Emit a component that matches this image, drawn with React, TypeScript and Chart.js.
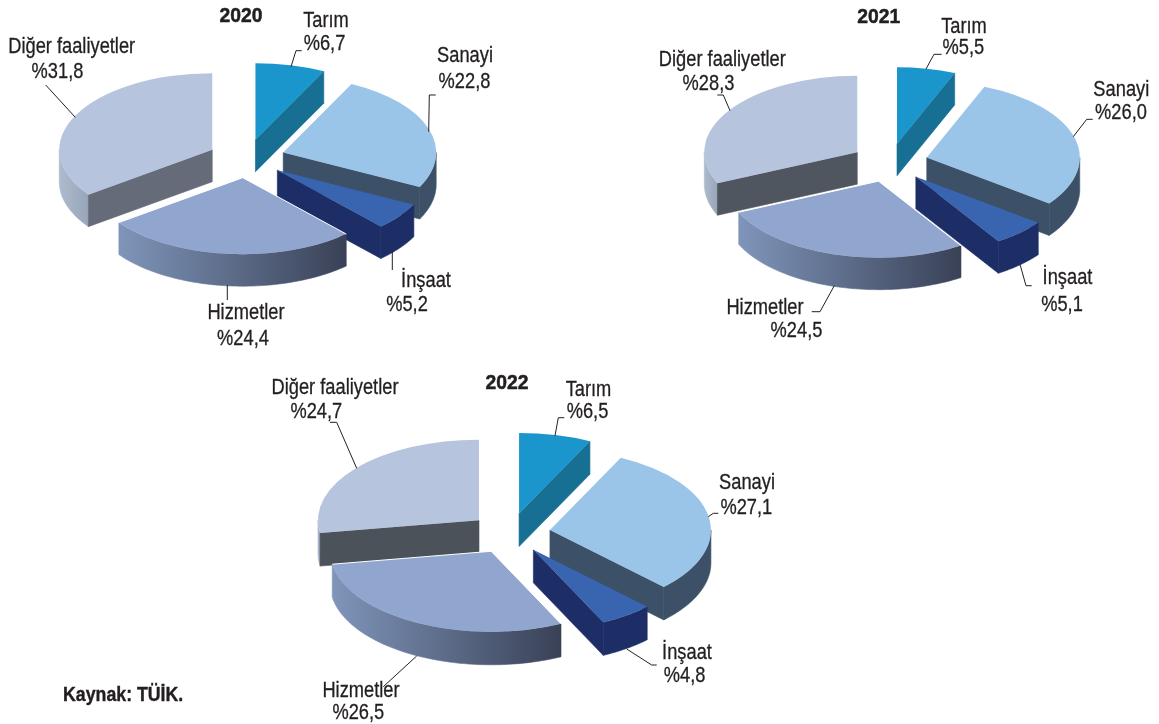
import React, { useEffect, useRef } from "react";
import { Chart, registerables } from "chart.js";

Chart.register(...registerables);

const categories = ["Tarım", "Sanayi", "İnşaat", "Hizmetler", "Diğer faaliyetler"];
const values2020 = [6.7, 22.8, 5.2, 24.4, 31.8];
const values2021 = [5.5, 26.0, 5.1, 24.5, 28.3];
const values2022 = [6.5, 27.1, 4.8, 26.5, 24.7];

const topColors = ["#1b96cc", "#9ac5e9", "#3864b0", "#91a6ce", "#b6c4dd"];
const faceColors = ["#176f94", "#3c5167", "#1d2e66", "#3a4258", "#666b79"];
const wallLeft = ["#176f94", "#3c5167", "#1d2e66", "#7f95ba", "#aebacd"];
const wallRight = ["#176f94", "#3c5167", "#1d2e66", "#394156", "#98a5ba"];

const TEXT = "#231f20";
const FONT = '"Liberation Sans", Arial, sans-serif';

type Pt = [number, number];
type Layout = {
  title: string;
  values: number[];
  box: { x: number; y: number; w: number; h: number };
  center: Pt;
  radius: number;
  depth: number;
  faceDiger: string;
  titleAt: Pt;
  nameAt: Pt[];
  valueAt: Pt[];
  leaders: Pt[][];
  note?: boolean;
};

const layouts: Layout[] = [
  {
    title: "2020",
    values: values2020,
    box: { x: 0, y: 0, w: 600, h: 365 },
    center: [246.6, 158.5],
    radius: 153,
    depth: 32,
    faceDiger: "#666b79",
    titleAt: [241, 22],
    nameAt: [[326, 27], [465, 62], [426, 287], [246, 319], [71.7, 53]],
    valueAt: [[324.5, 50], [464.5, 88], [407, 311], [243, 345], [57.5, 78]],
    leaders: [
      [[301.7, 50.7], [296, 50.7], [291, 66.7]],
      [[435.7, 95], [429.3, 95], [428.7, 131.7]],
      [[392.3, 251.7], [392.3, 270]],
      [[227.3, 285], [227.3, 300]],
      [[45.7, 85], [75.3, 117.3]],
    ],
  },
  {
    title: "2021",
    values: values2021,
    box: { x: 600, y: 0, w: 559, h: 365 },
    center: [889.6, 162.7],
    radius: 153,
    depth: 32,
    faceDiger: "#50565f",
    titleAt: [878.7, 22.7],
    nameAt: [[964, 32.7], [1121.3, 96], [1067.5, 284], [765, 314.3], [722.3, 65.7]],
    valueAt: [[963.3, 54.3], [1121, 119.3], [1062, 310.7], [796.5, 337.3], [708.5, 90]],
    leaders: [
      [[941.7, 54.3], [934, 54.3], [926, 69]],
      [[1092.7, 119.3], [1086.7, 119.3], [1073.3, 136.7]],
      [[1020, 264.3], [1026, 285.7], [1031.7, 285.7]],
      [[834.3, 285.7], [820, 311.7], [811.7, 311.7]],
      [[717.3, 95], [723.3, 95], [730, 110.7]],
    ],
  },
  {
    title: "2022",
    values: values2022,
    box: { x: 0, y: 365, w: 1159, h: 359 },
    center: [509.9, 533.3],
    radius: 161,
    depth: 33,
    faceDiger: "#4b525a",
    titleAt: [507, 389],
    nameAt: [[588.5, 396], [747, 489], [687, 659], [361, 697.3], [335, 394.3]],
    valueAt: [[587.5, 418.3], [746.3, 514], [684.7, 682.3], [358.3, 719], [316.3, 418.3]],
    leaders: [
      [[564.3, 417.7], [558.3, 417.7], [555, 435.7]],
      [[718.3, 513.3], [713.3, 513.3], [708.3, 516.7]],
      [[626.7, 649], [651.7, 665], [656.7, 665]],
      [[416.7, 656], [383.3, 686.7]],
      [[330, 422.3], [336.7, 422.3], [356.7, 468.3]],
    ],
    note: true,
  },
];

const TILT = 0.5;
const EXPLODE = 0.252;
const TAU = Math.PI * 2;
const HIZMETLER = 3;
const DIGER = 4;

function narrowText(
  ctx: CanvasRenderingContext2D,
  text: string,
  x: number,
  y: number,
  sx: number,
  weight: number,
) {
  ctx.save();
  ctx.translate(x, y);
  ctx.scale(sx, 1);
  ctx.lineWidth = weight;
  ctx.fillText(text, 0, 0);
  ctx.strokeText(text, 0, 0);
  ctx.restore();
}

function pie3d(l: Layout) {
  return {
    id: "pie3d" + l.title,
    beforeDatasetsDraw(chart: any) {
      const ctx: CanvasRenderingContext2D = chart.ctx;
      const arcs: any[] = chart.getDatasetMeta(0).data;
      const order = arcs
        .map((a, i) => ({ a, i, mid: (a.startAngle + a.endAngle) / 2 }))
        .sort((p, q) => Math.sin(p.mid) - Math.sin(q.mid));
      for (const { a, i, mid } of order) {
        const e = a.outerRadius * EXPLODE;
        const ax = a.x + Math.cos(mid) * e;
        const ay = a.y + Math.sin(mid) * e * TILT;
        const rim = (t: number): Pt => [
          ax + Math.cos(t) * a.outerRadius,
          ay + Math.sin(t) * a.outerRadius * TILT,
        ];
        const face = i === DIGER ? l.faceDiger : faceColors[i];
        const drawFace = (t: number) => {
          const [rx, ry] = rim(t);
          ctx.fillStyle = face;
          ctx.strokeStyle = face;
          ctx.lineWidth = 0.6;
          ctx.beginPath();
          ctx.moveTo(ax, ay);
          ctx.lineTo(rx, ry);
          ctx.lineTo(rx, ry + l.depth);
          ctx.lineTo(ax, ay + l.depth);
          ctx.closePath();
          ctx.fill();
          ctx.stroke();
        };

        // outer wall: the part of the rim facing the viewer (0..PI)
        let s = a.startAngle;
        let en = a.endAngle;
        while (s < -Math.PI) { s += TAU; en += TAU; }
        const from = Math.max(s, 0);
        const to = Math.min(en, Math.PI);
        if (to > from) {
          const steps = 60;
          const x0 = rim(to)[0];
          const x1 = rim(from)[0];
          const g = ctx.createLinearGradient(x0, 0, x1, 0);
          g.addColorStop(0, wallLeft[i]);
          g.addColorStop(1, wallRight[i]);
          ctx.fillStyle = g;
          ctx.strokeStyle = g;
          ctx.lineWidth = 0.6;
          ctx.beginPath();
          for (let n = 0; n <= steps; n++) {
            const [x, y] = rim(from + ((to - from) * n) / steps);
            if (n === 0) ctx.moveTo(x, y);
            else ctx.lineTo(x, y);
          }
          for (let n = steps; n >= 0; n--) {
            const [x, y] = rim(from + ((to - from) * n) / steps);
            ctx.lineTo(x, y + l.depth);
          }
          ctx.closePath();
          ctx.fill();
          ctx.stroke();
        }
        if (Math.cos(a.startAngle) < 0) drawFace(a.startAngle);
        if (Math.cos(a.endAngle) > 0) drawFace(a.endAngle);

        // top: the library's own arc, flattened and pushed out
        ctx.save();
        ctx.translate(a.x, a.y);
        ctx.scale(1, TILT);
        ctx.translate(-a.x, -a.y);
        ctx.translate(Math.cos(mid) * e, Math.sin(mid) * e);
        a.draw(ctx);
        ctx.restore();

        if (i === HIZMETLER) {
          const p = rim(a.startAngle);
          const q = rim(a.endAngle);
          ctx.strokeStyle = "#ffffff";
          ctx.lineWidth = 1;
          ctx.beginPath();
          ctx.moveTo(p[0], p[1]);
          ctx.lineTo(ax, ay);
          ctx.lineTo(q[0], q[1]);
          ctx.stroke();
        }
      }
      return false;
    },
    afterDraw(chart: any) {
      const ctx: CanvasRenderingContext2D = chart.ctx;
      const ox = l.box.x;
      const oy = l.box.y;
      ctx.save();
      ctx.fillStyle = TEXT;
      ctx.strokeStyle = TEXT;
      ctx.lineWidth = 1;
      ctx.textAlign = "center";
      ctx.textBaseline = "alphabetic";
      for (const pts of l.leaders) {
        ctx.beginPath();
        pts.forEach(([x, y], n) => {
          if (n === 0) ctx.moveTo(x - ox, y - oy);
          else ctx.lineTo(x - ox, y - oy);
        });
        ctx.stroke();
      }
      ctx.font = `21.5px ${FONT}`;
      categories.forEach((name, i) => {
        narrowText(ctx, name, l.nameAt[i][0] - ox, l.nameAt[i][1] - oy, 0.85, 0.3);
        const v = "%" + l.values[i].toFixed(1).replace(".", ",");
        narrowText(ctx, v, l.valueAt[i][0] - ox, l.valueAt[i][1] - oy, 0.85, 0.3);
      });
      ctx.font = `bold 21px ${FONT}`;
      narrowText(ctx, l.title, l.titleAt[0] - ox, l.titleAt[1] - oy, 0.92, 0.5);
      if (l.note) {
        ctx.textAlign = "left";
        narrowText(ctx, "Kaynak: TÜİK.", 63 - ox, 701 - oy, 0.845, 0.4);
      }
      ctx.restore();
    },
  };
}

function Pie({ layout }: { layout: Layout }) {
  const ref = useRef<HTMLCanvasElement>(null);
  useEffect(() => {
    const { box, center, radius, values } = layout;
    const cx = center[0] - box.x;
    const cy = center[1] - box.y;
    const chart = new Chart(ref.current as HTMLCanvasElement, {
      type: "pie",
      data: {
        labels: categories,
        datasets: [
          { data: values, backgroundColor: topColors, borderWidth: 0, radius },
        ],
      },
      options: {
        animation: false,
        responsive: false,
        devicePixelRatio: 1,
        events: [],
        layout: {
          padding: {
            left: Math.max(2 * cx - box.w, 0),
            right: Math.max(box.w - 2 * cx, 0),
            top: Math.max(2 * cy - box.h, 0),
            bottom: Math.max(box.h - 2 * cy, 0),
          },
        },
        plugins: { legend: { display: false }, tooltip: { enabled: false } },
      },
      plugins: [pie3d(layout)],
    } as any);
    return () => chart.destroy();
  }, [layout]);
  const { box } = layout;
  return (
    <canvas
      ref={ref}
      width={box.w}
      height={box.h}
      style={{ position: "absolute", left: box.x, top: box.y, display: "block" }}
    />
  );
}

export default function App() {
  return (
    <div
      style={{
        position: "absolute",
        left: 0,
        top: 0,
        width: 1159,
        height: 724,
        background: "#ffffff",
        overflow: "hidden",
      }}
    >
      {layouts.map((l) => (
        <Pie key={l.title} layout={l} />
      ))}
    </div>
  );
}
